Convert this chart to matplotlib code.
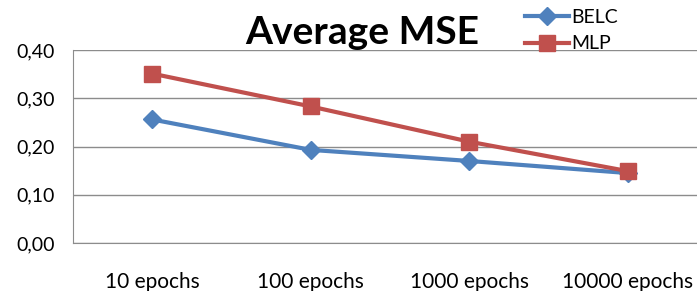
import numpy as np
import matplotlib.pyplot as plt

# data
epochs = ['10 epochs', '100 epochs', '1000 epochs', '10000 epochs']
belc = [0.256, 0.193, 0.170, 0.145]
mlp = [0.351, 0.283, 0.210, 0.149]
yticks = [0.0, 0.1, 0.2, 0.3, 0.4]

plt.rcParams['font.family'] = ['Lato', 'DejaVu Sans']

fig = plt.figure(figsize=(6.97, 2.91), dpi=100)
ax = fig.add_axes([73 / 697, 48 / 291, 634 / 697, 193 / 291])

x = np.arange(len(epochs))
ax.plot(x, belc, color='#4F81BD', lw=3, marker='D', ms=9, label='BELC', zorder=3)
ax.plot(x, mlp, color='#C0504D', lw=3, marker='s', ms=11, label='MLP', zorder=3)

ax.set_xlim(-0.5, 3.5)
ax.set_ylim(0, 0.4)
ax.set_yticks(yticks)
ax.set_yticklabels([f'{v:.2f}'.replace('.', ',') for v in yticks], fontsize=14)
ax.set_xticks(x)
ax.set_xticklabels(epochs, fontsize=15)
ax.tick_params(axis='both', length=0)
ax.tick_params(axis='x', pad=21)
ax.tick_params(axis='y', pad=13)
ax.grid(axis='y', color='#8c8c8c', lw=1)
ax.set_axisbelow(True)
for s in ['top', 'right']:
    ax.spines[s].set_visible(False)
ax.spines['left'].set_color('#8c8c8c')
ax.spines['bottom'].set_color('#8c8c8c')

fig.text(362 / 697, 1 - 33 / 291, 'Average MSE', ha='center', va='center',
         fontsize=28, fontweight='bold')
fig.legend(loc='upper left', bbox_to_anchor=(513 / 697, 1.01), frameon=False,
           fontsize=14, handlelength=2.3, handletextpad=0.1, labelspacing=0.5,
           borderaxespad=0.2)

fig.savefig('out.png', dpi=100)
